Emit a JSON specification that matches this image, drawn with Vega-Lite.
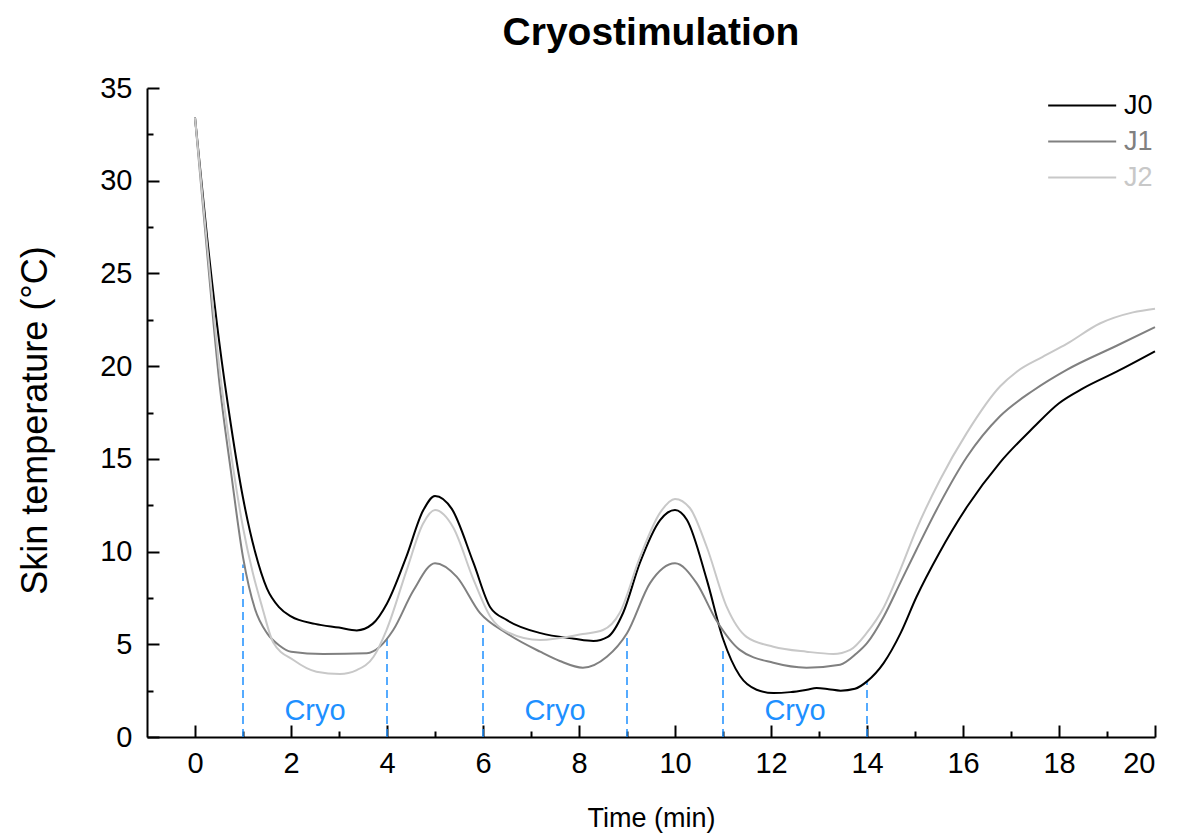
{
  "$schema": "https://vega.github.io/schema/vega-lite/v6.json",
  "width": 1008,
  "height": 649,
  "autosize": "none",
  "padding": {"left": 147, "top": 88, "right": 23, "bottom": 97},
  "title": {"text": "Cryostimulation", "font": "Liberation Sans", "fontSize": 39, "fontWeight": "bold", "color": "#000000", "anchor": "middle", "offset": 21},
  "config": {
    "view": {"stroke": null},
    "axis": {"grid": false, "domainColor": "#000000", "domainWidth": 2, "tickColor": "#000000", "tickWidth": 2, "labelFont": "Liberation Sans", "labelFontSize": 29, "labelColor": "#000000", "titleFont": "Liberation Sans", "titleColor": "#000000", "titleFontWeight": "normal"},
    "legend": {"labelFont": "Liberation Sans"}
  },
  "datasets": {
    "series": [
      {"t": 0, "temp": 33.4, "day": "J0"},
      {"t": 0.25, "temp": 27.0, "day": "J0"},
      {"t": 0.5, "temp": 21.4, "day": "J0"},
      {"t": 0.75, "temp": 16.8, "day": "J0"},
      {"t": 1.0, "temp": 12.9, "day": "J0"},
      {"t": 1.25, "temp": 10.0, "day": "J0"},
      {"t": 1.5, "temp": 8.0, "day": "J0"},
      {"t": 1.75, "temp": 7.0, "day": "J0"},
      {"t": 2.0, "temp": 6.5, "day": "J0"},
      {"t": 2.5, "temp": 6.1, "day": "J0"},
      {"t": 3.0, "temp": 5.9, "day": "J0"},
      {"t": 3.37, "temp": 5.75, "day": "J0"},
      {"t": 3.7, "temp": 6.1, "day": "J0"},
      {"t": 4.0, "temp": 7.2, "day": "J0"},
      {"t": 4.4, "temp": 9.7, "day": "J0"},
      {"t": 4.75, "temp": 12.2, "day": "J0"},
      {"t": 5.0, "temp": 13.0, "day": "J0"},
      {"t": 5.35, "temp": 12.3, "day": "J0"},
      {"t": 5.8, "temp": 9.4, "day": "J0"},
      {"t": 6.15, "temp": 7.0, "day": "J0"},
      {"t": 6.5, "temp": 6.3, "day": "J0"},
      {"t": 7.2, "temp": 5.6, "day": "J0"},
      {"t": 7.9, "temp": 5.3, "day": "J0"},
      {"t": 8.3, "temp": 5.18, "day": "J0"},
      {"t": 8.6, "temp": 5.4, "day": "J0"},
      {"t": 8.92, "temp": 6.7, "day": "J0"},
      {"t": 9.27, "temp": 9.4, "day": "J0"},
      {"t": 9.69, "temp": 11.7, "day": "J0"},
      {"t": 10.0, "temp": 12.24, "day": "J0"},
      {"t": 10.25, "temp": 11.7, "day": "J0"},
      {"t": 10.66, "temp": 8.5, "day": "J0"},
      {"t": 11.0, "temp": 5.3, "day": "J0"},
      {"t": 11.35, "temp": 3.3, "day": "J0"},
      {"t": 11.7, "temp": 2.55, "day": "J0"},
      {"t": 12.05, "temp": 2.37, "day": "J0"},
      {"t": 12.4, "temp": 2.42, "day": "J0"},
      {"t": 12.75, "temp": 2.55, "day": "J0"},
      {"t": 12.95, "temp": 2.64, "day": "J0"},
      {"t": 13.2, "temp": 2.58, "day": "J0"},
      {"t": 13.45, "temp": 2.5, "day": "J0"},
      {"t": 13.75, "temp": 2.6, "day": "J0"},
      {"t": 14.0, "temp": 3.0, "day": "J0"},
      {"t": 14.35, "temp": 4.0, "day": "J0"},
      {"t": 14.7, "temp": 5.6, "day": "J0"},
      {"t": 15.03, "temp": 7.55, "day": "J0"},
      {"t": 15.5, "temp": 9.9, "day": "J0"},
      {"t": 16.08, "temp": 12.4, "day": "J0"},
      {"t": 16.77, "temp": 14.8, "day": "J0"},
      {"t": 17.47, "temp": 16.7, "day": "J0"},
      {"t": 18.0, "temp": 18.0, "day": "J0"},
      {"t": 18.5, "temp": 18.8, "day": "J0"},
      {"t": 19.2, "temp": 19.7, "day": "J0"},
      {"t": 20.0, "temp": 20.8, "day": "J0"},
      {"t": 0, "temp": 33.4, "day": "J1"},
      {"t": 0.25, "temp": 26.2, "day": "J1"},
      {"t": 0.5, "temp": 19.3, "day": "J1"},
      {"t": 0.75, "temp": 14.3, "day": "J1"},
      {"t": 1.0, "temp": 9.7, "day": "J1"},
      {"t": 1.25, "temp": 6.9, "day": "J1"},
      {"t": 1.5, "temp": 5.6, "day": "J1"},
      {"t": 1.75, "temp": 4.95, "day": "J1"},
      {"t": 2.0, "temp": 4.6, "day": "J1"},
      {"t": 2.67, "temp": 4.48, "day": "J1"},
      {"t": 3.58, "temp": 4.52, "day": "J1"},
      {"t": 3.85, "temp": 4.87, "day": "J1"},
      {"t": 4.13, "temp": 5.77, "day": "J1"},
      {"t": 4.55, "temp": 7.9, "day": "J1"},
      {"t": 5.0, "temp": 9.37, "day": "J1"},
      {"t": 5.45, "temp": 8.65, "day": "J1"},
      {"t": 5.94, "temp": 6.68, "day": "J1"},
      {"t": 6.49, "temp": 5.6, "day": "J1"},
      {"t": 7.19, "temp": 4.6, "day": "J1"},
      {"t": 7.6, "temp": 4.1, "day": "J1"},
      {"t": 8.08, "temp": 3.74, "day": "J1"},
      {"t": 8.58, "temp": 4.33, "day": "J1"},
      {"t": 9.0, "temp": 5.6, "day": "J1"},
      {"t": 9.48, "temp": 8.3, "day": "J1"},
      {"t": 10.0, "temp": 9.37, "day": "J1"},
      {"t": 10.45, "temp": 8.3, "day": "J1"},
      {"t": 10.86, "temp": 6.3, "day": "J1"},
      {"t": 11.35, "temp": 4.7, "day": "J1"},
      {"t": 12.05, "temp": 4.0, "day": "J1"},
      {"t": 12.74, "temp": 3.74, "day": "J1"},
      {"t": 13.44, "temp": 3.9, "day": "J1"},
      {"t": 13.78, "temp": 4.5, "day": "J1"},
      {"t": 14.0, "temp": 5.06, "day": "J1"},
      {"t": 14.35, "temp": 6.5, "day": "J1"},
      {"t": 14.69, "temp": 8.3, "day": "J1"},
      {"t": 15.03, "temp": 10.1, "day": "J1"},
      {"t": 15.52, "temp": 12.6, "day": "J1"},
      {"t": 16.08, "temp": 15.1, "day": "J1"},
      {"t": 16.77, "temp": 17.3, "day": "J1"},
      {"t": 17.47, "temp": 18.7, "day": "J1"},
      {"t": 18.16, "temp": 19.8, "day": "J1"},
      {"t": 19.2, "temp": 21.1, "day": "J1"},
      {"t": 20.0, "temp": 22.1, "day": "J1"},
      {"t": 0, "temp": 33.4, "day": "J2"},
      {"t": 0.25, "temp": 26.6, "day": "J2"},
      {"t": 0.5, "temp": 20.1, "day": "J2"},
      {"t": 0.75, "temp": 15.3, "day": "J2"},
      {"t": 1.0, "temp": 11.3, "day": "J2"},
      {"t": 1.2, "temp": 8.9, "day": "J2"},
      {"t": 1.4, "temp": 7.0, "day": "J2"},
      {"t": 1.63, "temp": 5.1, "day": "J2"},
      {"t": 2.05, "temp": 4.15, "day": "J2"},
      {"t": 2.53, "temp": 3.52, "day": "J2"},
      {"t": 3.02, "temp": 3.4, "day": "J2"},
      {"t": 3.37, "temp": 3.61, "day": "J2"},
      {"t": 3.72, "temp": 4.33, "day": "J2"},
      {"t": 3.99, "temp": 5.77, "day": "J2"},
      {"t": 4.41, "temp": 9.0, "day": "J2"},
      {"t": 4.75, "temp": 11.5, "day": "J2"},
      {"t": 5.0, "temp": 12.24, "day": "J2"},
      {"t": 5.38, "temp": 11.3, "day": "J2"},
      {"t": 5.8, "temp": 8.5, "day": "J2"},
      {"t": 6.15, "temp": 6.5, "day": "J2"},
      {"t": 6.49, "temp": 5.68, "day": "J2"},
      {"t": 7.19, "temp": 5.23, "day": "J2"},
      {"t": 8.08, "temp": 5.55, "day": "J2"},
      {"t": 8.5, "temp": 5.77, "day": "J2"},
      {"t": 8.85, "temp": 6.7, "day": "J2"},
      {"t": 9.27, "temp": 9.7, "day": "J2"},
      {"t": 9.69, "temp": 12.1, "day": "J2"},
      {"t": 10.0, "temp": 12.84, "day": "J2"},
      {"t": 10.31, "temp": 12.35, "day": "J2"},
      {"t": 10.66, "temp": 10.26, "day": "J2"},
      {"t": 11.08, "temp": 7.0, "day": "J2"},
      {"t": 11.49, "temp": 5.4, "day": "J2"},
      {"t": 12.05, "temp": 4.87, "day": "J2"},
      {"t": 12.74, "temp": 4.6, "day": "J2"},
      {"t": 13.3, "temp": 4.48, "day": "J2"},
      {"t": 13.65, "temp": 4.7, "day": "J2"},
      {"t": 13.99, "temp": 5.6, "day": "J2"},
      {"t": 14.35, "temp": 7.0, "day": "J2"},
      {"t": 14.69, "temp": 9.0, "day": "J2"},
      {"t": 15.03, "temp": 11.2, "day": "J2"},
      {"t": 15.52, "temp": 13.86, "day": "J2"},
      {"t": 16.08, "temp": 16.4, "day": "J2"},
      {"t": 16.77, "temp": 18.9, "day": "J2"},
      {"t": 17.12, "temp": 19.7, "day": "J2"},
      {"t": 17.66, "temp": 20.5, "day": "J2"},
      {"t": 18.16, "temp": 21.2, "day": "J2"},
      {"t": 18.85, "temp": 22.3, "day": "J2"},
      {"t": 19.54, "temp": 22.9, "day": "J2"},
      {"t": 20.0, "temp": 23.1, "day": "J2"}
    ],
    "cryo": [
      {"t": 1, "lo": 0, "hi": 9.3},
      {"t": 4, "lo": 0, "hi": 5.35},
      {"t": 6, "lo": 0, "hi": 6.2},
      {"t": 9, "lo": 0, "hi": 5.5},
      {"t": 11, "lo": 0, "hi": 4.87},
      {"t": 14, "lo": 0, "hi": 3.0}
    ],
    "labels": [
      {"t": 2.5, "y": 0.9, "label": "Cryo"},
      {"t": 7.5, "y": 0.9, "label": "Cryo"},
      {"t": 12.5, "y": 0.9, "label": "Cryo"}
    ]
  },
  "layer": [
    {
      "data": {"name": "cryo"},
      "mark": {"type": "rule", "color": "#1E90FF", "strokeWidth": 1.5, "strokeDash": [8, 5]},
      "encoding": {
        "x": {"field": "t", "type": "quantitative", "scale": {"domain": [-1, 20], "nice": false, "zero": false},
              "axis": {"orient": "bottom", "values": [1, 3, 5, 7, 9, 11, 13, 15, 17, 19], "tickSize": -6, "labels": false, "domain": false, "title": null}},
        "y": {"field": "lo", "type": "quantitative", "scale": {"domain": [0, 35], "nice": false, "zero": false},
              "axis": {"orient": "left", "values": [2.5, 7.5, 12.5, 17.5, 22.5, 27.5, 32.5], "tickSize": -6, "labels": false, "domain": false, "title": null}},
        "y2": {"field": "hi"}
      }
    },
    {
      "data": {"name": "series"},
      "mark": {"type": "line", "interpolate": "monotone", "strokeWidth": 2},
      "encoding": {
        "x": {"field": "t", "type": "quantitative",
              "axis": {"orient": "bottom", "values": [0, 2, 4, 6, 8, 10, 12, 14, 16, 18, 20], "tickSize": -12, "labelPadding": 24, "title": "Time (min)", "titleFontSize": 27, "titleX": 504, "titleY": 81, "titleBaseline": "middle", "titleAlign": "center"}},
        "y": {"field": "temp", "type": "quantitative",
              "axis": {"orient": "left", "values": [0, 5, 10, 15, 20, 25, 30, 35], "tickSize": -12, "labelPadding": 27, "title": "Skin temperature (°C)", "titleFontSize": 36, "titleX": -112, "titleY": 332, "titleAngle": 270, "titleBaseline": "middle", "titleAlign": "center"}},
        "color": {"field": "day", "type": "nominal",
                  "scale": {"domain": ["J0", "J1", "J2"], "range": ["#000000", "#808080", "#c8c8c8"]},
                  "legend": {"orient": "none", "legendX": 899, "legendY": 4, "title": null, "symbolType": "M-1,0H5", "symbolSize": 514, "symbolStrokeWidth": 2, "labelFontSize": 27, "labelOffset": 51, "rowPadding": 8,
                             "encode": {"labels": {"update": {"fill": {"scale": "color", "field": "value"}}}}}}
      }
    },
    {
      "data": {"name": "labels"},
      "mark": {"type": "text", "color": "#1E90FF", "font": "Liberation Sans", "fontSize": 29, "align": "center", "baseline": "alphabetic"},
      "encoding": {
        "x": {"field": "t", "type": "quantitative", "axis": null},
        "y": {"field": "y", "type": "quantitative", "axis": null},
        "text": {"field": "label"}
      }
    }
  ],
  "resolve": {"axis": {"x": "independent", "y": "independent"}}
}
